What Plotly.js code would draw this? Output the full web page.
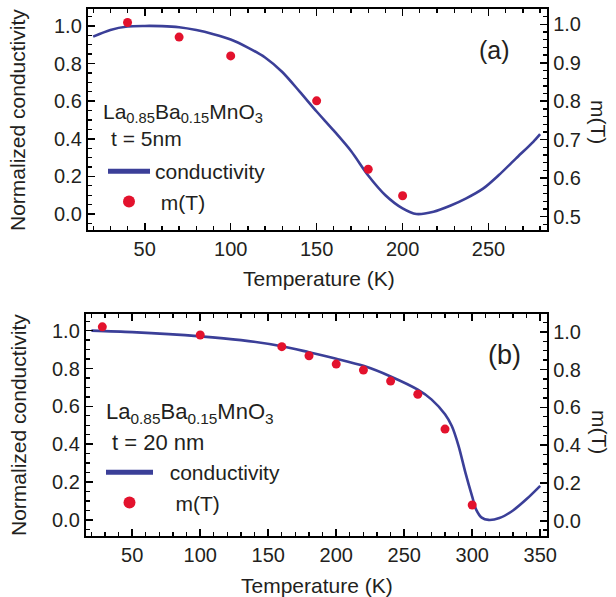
<!DOCTYPE html>
<html>
<head>
<meta charset="utf-8">
<script src="https://cdn.plot.ly/plotly-3.0.1.min.js"></script>
<style>html,body{margin:0;padding:0;background:#fff;}#plot{width:616px;height:597px;}</style>
</head>
<body>
<div id="plot"></div>
<script>
// Panel (a): t = 5 nm
const tempA = [20, 30, 40, 50, 60, 70, 80, 90, 100, 110, 120, 130, 140, 150, 160, 170, 180, 190, 200, 208, 218, 228, 237, 247, 256, 266, 276, 280];
const condA = [0.943, 0.979, 0.997, 1.0, 0.999, 0.993, 0.978, 0.956, 0.928, 0.885, 0.832, 0.755, 0.652, 0.545, 0.443, 0.335, 0.205, 0.1, 0.03, 0.0, 0.012, 0.045, 0.083, 0.136, 0.207, 0.296, 0.384, 0.425];
const mTempA = [40, 70, 100, 150, 180, 200];
const mA = [1.005, 0.967, 0.918, 0.801, 0.623, 0.554];

// Panel (b): t = 20 nm
const tempB = [20, 50, 100, 130, 160, 180, 200, 220, 240, 260, 270, 280, 285, 290, 295, 300, 303, 307, 312, 320, 330, 340, 350];
const condB = [1.0, 0.992, 0.97, 0.95, 0.918, 0.886, 0.852, 0.814, 0.758, 0.688, 0.637, 0.558, 0.496, 0.39, 0.25, 0.123, 0.053, 0.012, 0.0, 0.01, 0.05, 0.11, 0.18];
const mTempB = [28, 100, 160, 180, 200, 220, 240, 260, 280, 300];
const mB = [1.026, 0.983, 0.921, 0.873, 0.829, 0.797, 0.739, 0.669, 0.485, 0.083];

const W = 616, H = 597;
const px = x => x / W;
const py = y => 1 - y / H;
const FONT = 'Liberation Sans, Arial, Helvetica, sans-serif';
const TXT = '#231f20';
const LINE = '#3b3f98';
const DOT = '#e3122d';

const traces = [
  {x: tempA, y: condA, xaxis: 'x', yaxis: 'y', type: 'scatter', mode: 'lines', name: 'conductivity',
   line: {color: LINE, width: 2.6, shape: 'spline', smoothing: 0.8}, legend: 'legend'},
  {x: mTempA, y: mA, xaxis: 'x', yaxis: 'y2', type: 'scatter', mode: 'markers', name: ' m(T)',
   marker: {color: DOT, size: 9}, legend: 'legend'},
  {x: tempB, y: condB, xaxis: 'x2', yaxis: 'y3', type: 'scatter', mode: 'lines', name: '  conductivity',
   line: {color: LINE, width: 2.6, shape: 'spline', smoothing: 0.8}, legend: 'legend2'},
  {x: mTempB, y: mB, xaxis: 'x2', yaxis: 'y4', type: 'scatter', mode: 'markers', name: '   m(T)',
   marker: {color: DOT, size: 9}, legend: 'legend2'}
];

function ax(extra) {
  return Object.assign({
    showline: true, linecolor: '#000', linewidth: 2.2,
    ticks: 'inside', ticklen: 7, tickwidth: 1.6, tickcolor: '#000',
    showgrid: false, zeroline: false,
    tickfont: {family: FONT, size: 20, color: TXT},
    fixedrange: true
  }, extra);
}
const minorX = {dtick: 10, ticklen: 4, tickwidth: 1.3, tickcolor: '#000', ticks: 'inside', showgrid: false};

const legendBase = {
  bgcolor: 'rgba(0,0,0,0)', borderwidth: 0, xanchor: 'left', yanchor: 'top',
  font: {family: FONT, size: 21, color: TXT}, itemsizing: 'constant', tracegroupgap: 0
};

const ann = [];
function addText(text, x, y, size, angle) {
  ann.push({text: text, x: px(x), y: py(y), xref: 'paper', yref: 'paper', showarrow: false,
    xanchor: 'center', yanchor: 'middle', textangle: angle || 0,
    font: {family: FONT, size: size, color: TXT}});
}
function addLeft(text, x, y, size) {
  ann.push({text: text, x: px(x), y: py(y), xref: 'paper', yref: 'paper', showarrow: false,
    xanchor: 'left', yanchor: 'middle', font: {family: FONT, size: size, color: TXT}});
}
// titles
addText('Normalized conductivity', 18, 120, 21, -90);
addText('Normalized conductivity', 18, 425, 21, -90);
addText('m(T)', 598, 122, 21, 90);
addText('m(T)', 600, 432, 21, 90);
addText('Temperature (K)', 319, 278, 21);
addText('Temperature (K)', 317, 585, 21);
addText('(a)', 494, 50, 25);
addText('(b)', 504, 355, 27);
addLeft('La<sub>0.85</sub>Ba<sub>0.15</sub>MnO<sub>3</sub>', 101, 113, 21);
addLeft('t = 5nm', 109, 139, 21);
addLeft('La<sub>0.85</sub>Ba<sub>0.15</sub>MnO<sub>3</sub>', 104, 413, 22);
addLeft('t = 20 nm', 110, 442, 22);

const layout = {
  width: W, height: H,
  margin: {l: 0, r: 0, t: 0, b: 0},
  paper_bgcolor: '#fff', plot_bgcolor: '#fff',
  showlegend: true,
  xaxis: ax({domain: [px(88), px(547)], range: [17, 284], anchor: 'y', mirror: 'ticks',
    tick0: 0, dtick: 50, minor: minorX}),
  yaxis: ax({domain: [py(230), py(9)], range: [-0.085, 1.09], anchor: 'x',
    tick0: 0, dtick: 0.2, tickformat: '.1f', minor: {dtick: 0.05, ticklen: 4, tickwidth: 1.3, tickcolor: '#000', ticks: 'inside'}}),
  yaxis2: ax({overlaying: 'y', side: 'right', anchor: 'x', range: [0.465, 1.04],
    tick0: 0.5, dtick: 0.1, tickformat: '.1f', minor: {dtick: 0.02, ticklen: 4, tickwidth: 1.3, tickcolor: '#000', ticks: 'inside'}}),
  xaxis2: ax({domain: [px(86), px(547)], range: [16, 355], anchor: 'y3', mirror: 'ticks',
    tick0: 0, dtick: 50, minor: minorX}),
  yaxis3: ax({domain: [py(536), py(314)], range: [-0.085, 1.088], anchor: 'x2',
    tick0: 0, dtick: 0.2, tickformat: '.1f', minor: {dtick: 0.05, ticklen: 4, tickwidth: 1.3, tickcolor: '#000', ticks: 'inside'}}),
  yaxis4: ax({overlaying: 'y3', side: 'right', anchor: 'x2', range: [-0.081, 1.094],
    tick0: 0, dtick: 0.2, tickformat: '.1f', minor: {dtick: 0.05, ticklen: 4, tickwidth: 1.3, tickcolor: '#000', ticks: 'inside'}}),
  legend: Object.assign({}, legendBase, {x: px(103), y: py(151), itemwidth: 42}),
  legend2: Object.assign({}, legendBase, {x: px(101), y: py(452), itemwidth: 47}),
  annotations: ann
};

Plotly.newPlot('plot', traces, layout, {displayModeBar: false, staticPlot: true});
</script>
</body>
</html>
